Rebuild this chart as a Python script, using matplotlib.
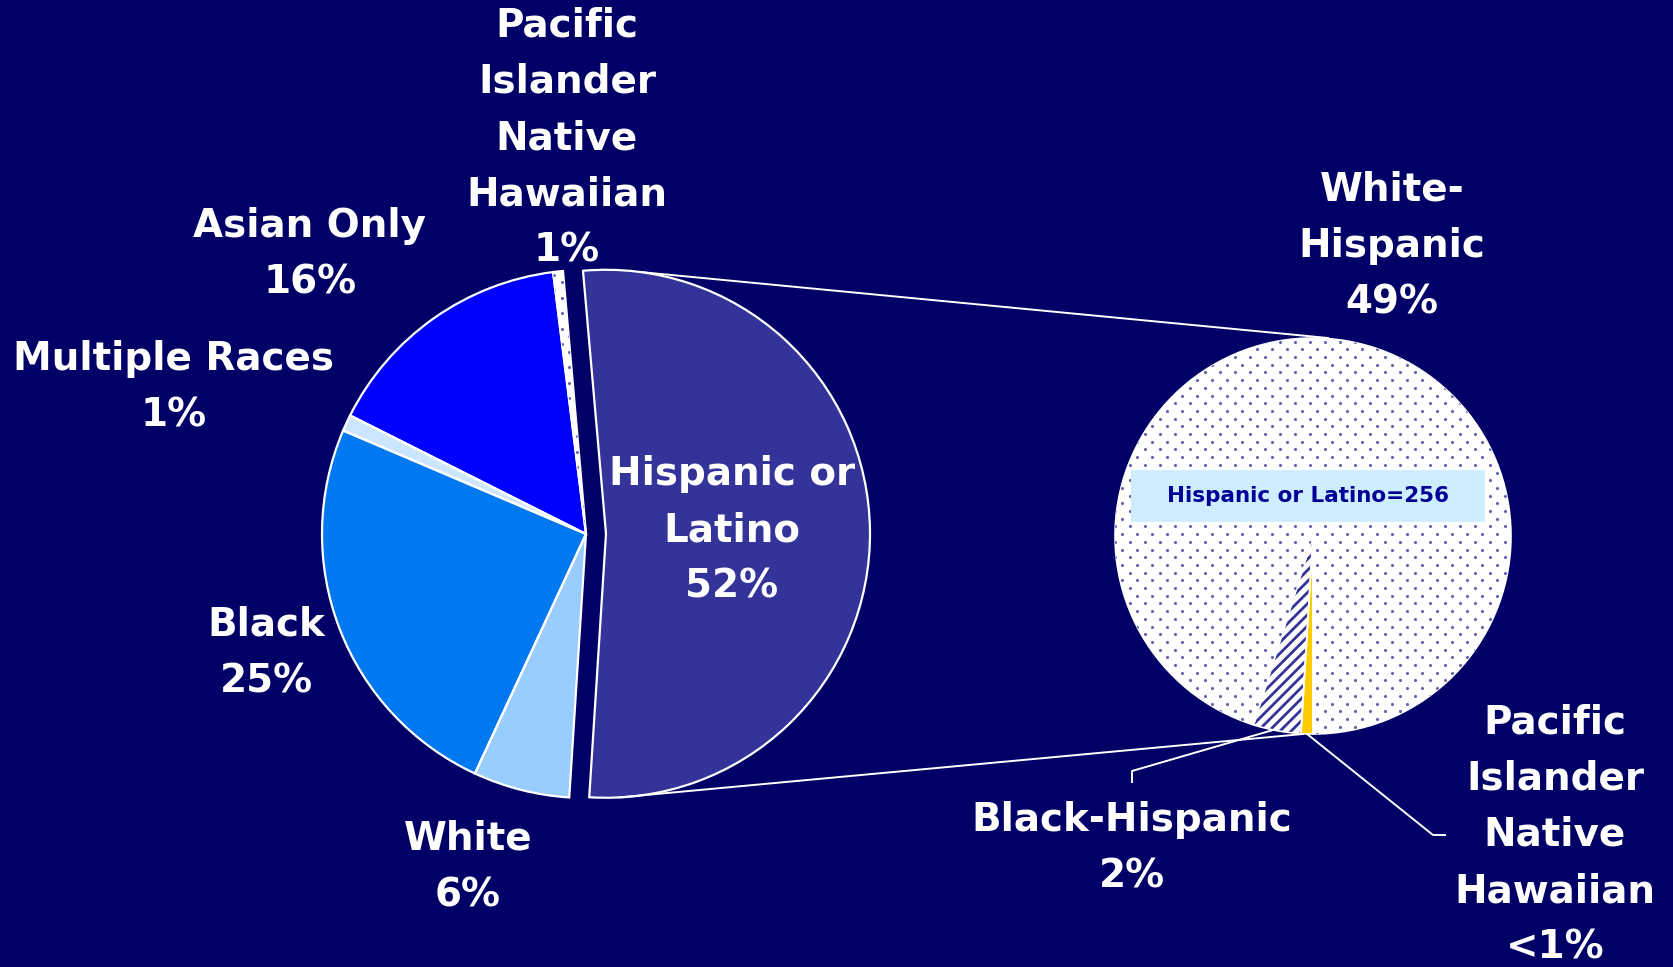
import numpy as np
import matplotlib
matplotlib.use("Agg")
import matplotlib.pyplot as plt
from matplotlib.patches import Rectangle

# ---------------- data ----------------
main_labels = ["Hispanic or\nLatino\n52%", "White\n6%", "Black\n25%",
               "Multiple Races\n1%", "Asian Only\n16%",
               "Pacific\nIslander\nNative\nHawaiian\n1%"]
main_values = [52.4, 5.9, 24.5, 1.0, 15.6, 0.6]
main_colors = ["#333399", "#99ccff", "#0078f0", "#cce6ff", "#0000ff", "#ffffff"]

sub_labels = ["Pacific\nIslander\nNative\nHawaiian\n<1%", "Black-Hispanic\n2%",
              "White-\nHispanic\n49%"]
sub_values = [0.5, 2, 49]
sub_colors = ["#ffcc00", "#ffffff", "#ffffff"]
box_text = "Hispanic or Latino=256"

BG = "#000066"
H = 967

plt.rcParams["hatch.linewidth"] = 2.0

fig = plt.figure(figsize=(16.73, 9.67), dpi=100, facecolor=BG)
ax = fig.add_axes([0, 0, 1, 1])
ax.set_facecolor(BG)

def Y(y):
    return H - y

# ---------------- main pie ----------------
mc = (586, Y(534))
mr = 264
explode = [20, 0, 0, 0, 0, 0]
wedges, _ = ax.pie(main_values, colors=main_colors, startangle=95,
                   counterclock=False, center=mc, radius=mr, explode=explode,
                   wedgeprops=dict(linewidth=0))
ax.pie(main_values, startangle=95,
       counterclock=False, center=mc, radius=mr, explode=explode,
       wedgeprops=dict(linewidth=1.6, edgecolor="white", fill=False))

# ---------------- sub pie ----------------
sc = (1313, Y(536))
sr = 198
swedges, _ = ax.pie(sub_values, colors=sub_colors, startangle=270,
                    counterclock=False, center=sc, radius=sr,
                    wedgeprops=dict(linewidth=0))
swedges[1].set_hatch("///")
swedges[1].set_edgecolor("#333399")
ax.pie(sub_values, startangle=270, counterclock=False,
       center=sc, radius=sr,
       wedgeprops=dict(linewidth=1.2, edgecolor="white", fill=False))

ax.set_xlim(0, 1673)
ax.set_ylim(0, H)
ax.set_aspect("equal")
ax.axis("off")

# dotted texture for White-Hispanic and the Pacific slice in main pie
def dot_texture(wedge, cx, cy, r):
    xs, ys = [], []
    rows = np.arange(cy - r - 8, cy + r + 8, 7.7)
    for i, yy in enumerate(rows):
        off = 0 if i % 2 == 0 else 7.5
        xx = np.arange(cx - r - 15 + off, cx + r + 15, 15.0)
        xs.extend(xx)
        ys.extend([yy] * len(xx))
    sc_ = ax.scatter(xs, ys, s=5, color="#6464ae", linewidths=0, zorder=wedge.get_zorder() + 0.1)
    sc_.set_clip_path(wedge)

dot_texture(swedges[2], sc[0], sc[1], sr)
dot_texture(wedges[5], mc[0], mc[1], mr)

# ---------------- connector lines ----------------
w_h = wedges[0]
ecx, ecy = w_h.center
a_top, a_bot = np.deg2rad(82.5), np.deg2rad(-87)
ax.plot([ecx + mr * np.cos(a_top), sc[0] + 15], [ecy + mr * np.sin(a_top), sc[1] + sr],
        color="white", lw=1.4, zorder=5)
ax.plot([ecx + mr * np.cos(a_bot), sc[0] - 10], [ecy + mr * np.sin(a_bot), sc[1] - sr],
        color="white", lw=1.4, zorder=5)

# ---------------- labels ----------------
tkw = dict(color="white", fontsize=28, fontweight="bold", ha="center", va="center",
           family="DejaVu Sans", linespacing=1.61, zorder=10)
ax.text(732, Y(530), main_labels[0], **tkw)
ax.text(468, Y(867), main_labels[1], **tkw)
ax.text(266, Y(653), main_labels[2], **tkw)
ax.text(174, Y(387), main_labels[3], **tkw)
ax.text(310, Y(254), main_labels[4], **tkw)
ax.text(567, Y(138), main_labels[5], **tkw)

ax.text(1392, Y(246), sub_labels[2], **tkw)
ax.text(1132, Y(848), sub_labels[1], **tkw)
ax.text(1555, Y(835), sub_labels[0], **tkw)

# leader lines
mid_b = np.deg2rad((swedges[1].theta1 + swedges[1].theta2) / 2)
bx, by = sc[0] + sr * 0.99 * np.cos(mid_b), sc[1] + sr * 0.99 * np.sin(mid_b)
ax.plot([1132, 1132, bx], [Y(782), Y(771), by], color="white", lw=1.4, zorder=5)
mid_p = np.deg2rad((swedges[0].theta1 + swedges[0].theta2) / 2)
px, py = sc[0] + sr * np.cos(mid_p), sc[1] + sr * np.sin(mid_p)
ax.plot([px, 1433, 1445], [py, Y(835), Y(835)], color="white", lw=1.4, zorder=5)

# box label
ax.add_patch(Rectangle((1131, Y(522)), 354, 52, facecolor="#cceeff", edgecolor="none", zorder=8))
ax.text(1308, Y(496), box_text, color="#000099", fontsize=15.5, fontweight="bold",
        ha="center", va="center", family="DejaVu Sans", zorder=9)

fig.savefig("out.png", dpi=100, facecolor=BG)
